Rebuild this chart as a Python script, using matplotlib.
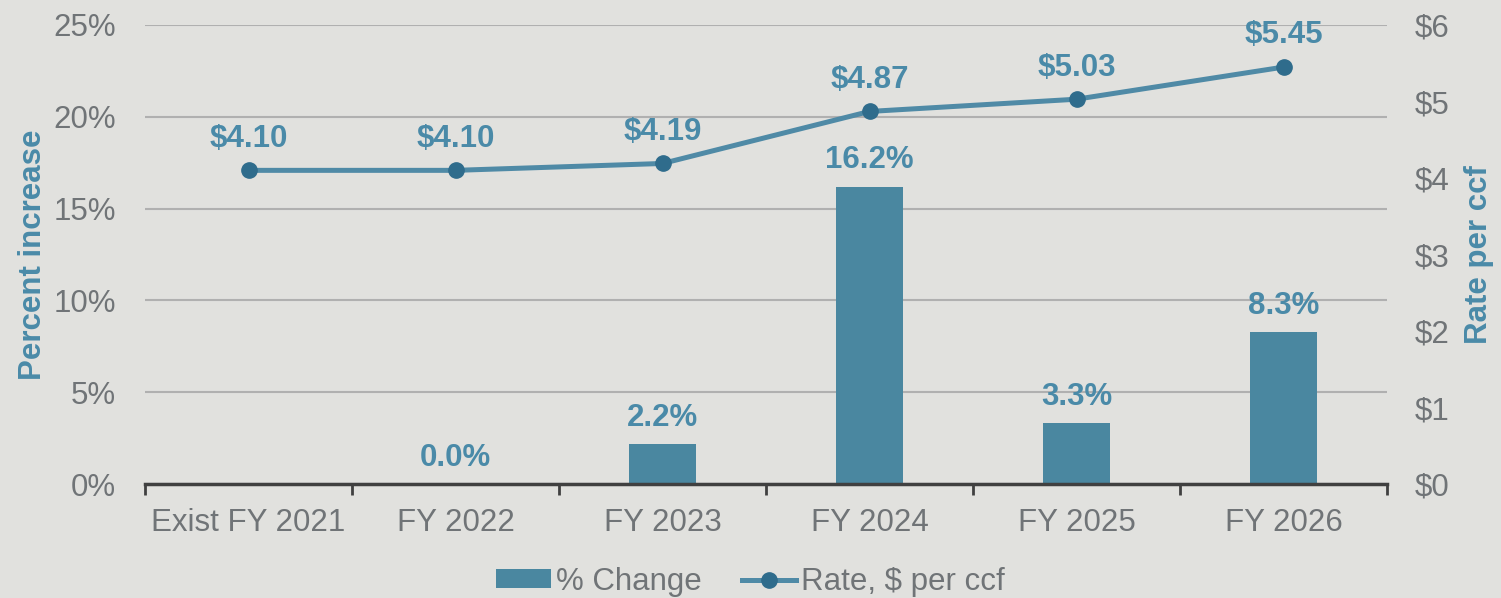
import numpy as np
import matplotlib
matplotlib.use("Agg")
import matplotlib.pyplot as plt
from matplotlib.ticker import FuncFormatter

plt.rcParams['font.family'] = ['Liberation Sans', 'DejaVu Sans']

years = ['Exist FY 2021', 'FY 2022', 'FY 2023', 'FY 2024', 'FY 2025', 'FY 2026']
pct_change = [np.nan, 0.0, 2.2, 16.2, 3.3, 8.3]
rate = [4.10, 4.10, 4.19, 4.87, 5.03, 5.45]

bg = '#e1e1de'
bar_c = '#4a87a0'
line_c = '#4f8aa6'
mark_c = '#2f6c8c'
lab_c = '#4a8aa8'
tick_c = '#707477'
fs = 22.5

fig = plt.figure(figsize=(15.01, 5.98), dpi=100, facecolor=bg)
ax = fig.add_axes([0.0966, 0.1906, 0.8275, 0.7676])
ax.set_facecolor(bg)
ax2 = ax.twinx()

ind = np.arange(len(years))
ax.bar(ind, pct_change, width=0.32, color=bar_c, zorder=2, label='% Change')
for i, v in enumerate(pct_change):
    if not np.isnan(v):
        ax.annotate('%.1f%%' % v, (i, v), xytext=(0, 8), textcoords='offset points',
                    ha='center', va='bottom', fontsize=fs, fontweight='bold', color=lab_c)

ax2.plot(ind, rate, '-o', color=line_c, lw=3.6, ms=11, mfc=mark_c, mec=mark_c,
         zorder=3, label='Rate, $ per ccf')
for i, v in enumerate(rate):
    ax2.annotate('$%.2f' % v, (i, v), xytext=(0, 12), textcoords='offset points',
                 ha='center', va='bottom', fontsize=fs, fontweight='bold', color=lab_c)

ax.set_xlim(-0.5, len(years) - 0.5)
ax.set_ylim(0, 25)
ax2.set_ylim(0, 6)
ax.set_yticks(np.arange(0, 26, 5))
ax2.set_yticks(np.arange(0, 7, 1))
ax.yaxis.set_major_formatter(FuncFormatter(lambda v, p: '%d%%' % v))
ax2.yaxis.set_major_formatter(FuncFormatter(lambda v, p: '$%d' % v))
ax.set_xticks(ind)
ax.set_xticklabels(years)
ax.set_xticks(np.arange(-0.5, len(years), 1), minor=True)
ax.tick_params(axis='x', which='major', length=0, pad=17, labelsize=fs, labelcolor=tick_c)
ax.tick_params(axis='x', which='minor', length=8, width=2, color='#404040', direction='out')
ax.tick_params(axis='y', length=0, pad=21, labelsize=fs, labelcolor=tick_c)
ax2.tick_params(axis='y', length=0, pad=20, labelsize=fs, labelcolor=tick_c)

ax.grid(axis='y', color='#b0b0b0', lw=1.5, zorder=0)
ax.set_axisbelow(True)
for a in (ax, ax2):
    for s in ['top', 'left', 'right', 'bottom']:
        a.spines[s].set_visible(False)
ax.spines['bottom'].set_visible(True)
ax.spines['bottom'].set_color('#404040')
ax.spines['bottom'].set_linewidth(2.5)

ax.set_ylabel('Percent increase', fontsize=fs, fontweight='bold', color=lab_c, labelpad=4)
ax2.set_ylabel('Rate per ccf', fontsize=fs, fontweight='bold', color=lab_c, labelpad=10)

h1, l1 = ax.get_legend_handles_labels()
h2, l2 = ax2.get_legend_handles_labels()
leg = fig.legend(h1 + h2, l1 + l2, loc='lower center', bbox_to_anchor=(0.5, -0.045), ncol=2,
                 frameon=False, fontsize=fs, handlelength=1.75, handleheight=0.55,
                 handletextpad=0.15, columnspacing=1.28)
for t in leg.get_texts():
    t.set_color(tick_c)

fig.savefig('out.png', dpi=100, facecolor=bg)
